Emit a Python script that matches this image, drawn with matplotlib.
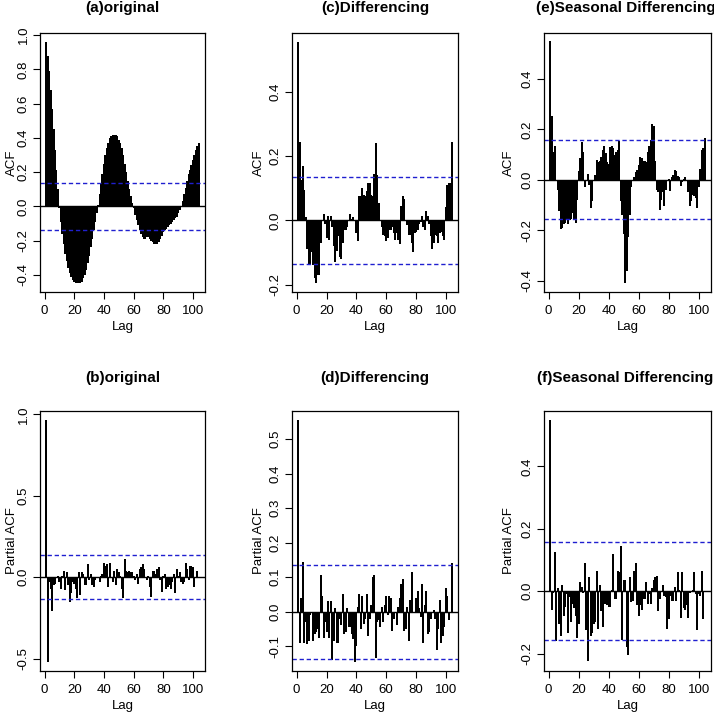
import matplotlib.pyplot as plt
import numpy as np

plt.rcParams['font.family'] = ['Liberation Sans', 'DejaVu Sans']

# --- correlogram values, lags 1..104 ---
lags = np.arange(1, 105)

acf_orig = [0.96, 0.88, 0.79, 0.68, 0.57, 0.45, 0.33, 0.21, 0.10, -0.01,
            -0.09, -0.16, -0.22, -0.28, -0.32, -0.36, -0.39, -0.41, -0.43, -0.44,
            -0.445, -0.45, -0.45, -0.45, -0.44, -0.42, -0.40, -0.37, -0.33, -0.29,
            -0.24, -0.19, -0.14, -0.09, -0.04, 0.01, 0.07, 0.13, 0.19, 0.25,
            0.30, 0.34, 0.37, 0.40, 0.41, 0.42, 0.42, 0.42, 0.41, 0.39,
            0.37, 0.34, 0.30, 0.25, 0.20, 0.15, 0.10, 0.06, 0.02, -0.01,
            -0.05, -0.08, -0.11, -0.14, -0.16, -0.18, -0.19, -0.19, -0.18, -0.18,
            -0.19, -0.20, -0.21, -0.22, -0.22, -0.22, -0.21, -0.19, -0.17, -0.15,
            -0.14, -0.13, -0.12, -0.11, -0.10, -0.09, -0.08, -0.07, -0.06, -0.04,
            -0.02, 0.00, 0.03, 0.07, 0.11, 0.15, 0.19, 0.21, 0.24, 0.27,
            0.30, 0.33, 0.35, 0.37]

pacf_orig = [0.965, -0.52, -0.03, -0.07, -0.21, -0.05, -0.04, 0.0, 0.01, -0.03,
             -0.07, 0.01, 0.04, -0.08, 0.03, -0.05, -0.15, -0.10, -0.03, -0.04,
             -0.07, -0.13, 0.03, -0.11, 0.03, 0.02, -0.05, -0.05, 0.08, -0.02,
             0.02, -0.05, -0.06, -0.02, 0.0, 0.0, -0.03, 0.01, 0.02, 0.09,
             0.07, 0.08, -0.06, 0.09, 0.0, -0.03, 0.04, -0.05, 0.05, 0.03,
             0.01, -0.07, -0.13, 0.11, 0.04, 0.03, 0.04, 0.03, 0.03, 0.01,
             -0.02, 0.02, -0.04, 0.05, 0.06, 0.08, 0.05, 0.0, -0.02, 0.01,
             -0.06, -0.12, 0.04, 0.04, 0.02, 0.05, 0.06, -0.02, -0.09, 0.01,
             0.02, -0.07, -0.06, -0.05, -0.07, -0.03, 0.02, -0.10, 0.05, 0.01,
             0.03, -0.03, -0.04, -0.03, 0.09, 0.05, -0.02, 0.07, 0.07, 0.06,
             -0.06, 0.0, 0.04, 0.0]

acf_diff = [0.555, 0.245, 0.125, 0.17, 0.095, 0.01, -0.09, -0.14, -0.14, -0.10,
            -0.14, -0.18, -0.195, -0.17, -0.17, -0.07, 0.0, 0.02, -0.01, -0.055,
            0.015, -0.06, 0.015, -0.02, -0.08, -0.13, -0.095, -0.05, -0.115, -0.12,
            -0.07, -0.03, -0.03, -0.02, 0.0, 0.02, 0.005, 0.01, 0.0, -0.04,
            -0.065, 0.075, 0.075, 0.10, 0.08, 0.075, 0.09, 0.115, 0.115, 0.08,
            0.075, 0.145, 0.24, 0.14, 0.055, 0.0, -0.02, -0.045, -0.05, -0.065,
            -0.055, -0.03, -0.03, -0.02, -0.04, -0.06, -0.04, -0.06, -0.075, 0.045,
            0.075, 0.065, 0.0, -0.015, -0.045, -0.045, -0.07, -0.10, -0.04, -0.035,
            -0.03, -0.01, -0.005, 0.015, -0.02, -0.03, 0.03, 0.015, -0.01, -0.05,
            -0.09, -0.07, -0.045, -0.05, -0.07, -0.04, -0.035, -0.05, -0.06, 0.04,
            0.11, 0.115, 0.115, 0.245]

pacf_diff = [0.555, -0.09, 0.04, 0.145, -0.09, -0.03, -0.095, -0.085, -0.01, -0.005,
             -0.085, -0.065, -0.06, -0.05, -0.075, 0.105, 0.045, -0.075, -0.03, -0.06,
             0.03, -0.075, 0.03, -0.14, -0.085, 0.01, -0.09, -0.09, -0.02, -0.04,
             0.05, -0.065, -0.06, 0.01, -0.045, -0.045, -0.065, -0.08, -0.145, -0.10,
             0.015, 0.05, -0.05, 0.045, -0.035, -0.02, 0.05, -0.07, -0.02, 0.02,
             0.10, 0.105, -0.135, -0.03, -0.025, -0.045, 0.015, -0.03, 0.02, 0.045,
             -0.01, 0.045, 0.04, -0.055, -0.02, 0.0, -0.04, 0.015, 0.04, 0.08,
             0.095, -0.055, -0.05, 0.015, -0.085, 0.035, 0.115, -0.005, 0.0, 0.04,
             0.06, 0.01, -0.015, 0.08, -0.09, 0.02, 0.06, -0.065, -0.06, -0.02,
             0.0, 0.005, -0.02, -0.11, -0.05, 0.035, -0.09, -0.07, -0.045, 0.07,
             0.045, -0.025, 0.0, 0.14]

acf_seas = [0.55, 0.255, 0.11, 0.135, 0.0, -0.04, -0.125, -0.195, -0.19, -0.175,
            -0.17, -0.155, -0.175, -0.16, -0.155, -0.13, -0.16, -0.17, -0.08, 0.035,
            0.085, 0.15, 0.11, -0.03, 0.0, 0.025, -0.02, -0.11, -0.085, 0.0,
            0.02, 0.08, 0.07, 0.075, 0.09, 0.12, 0.135, 0.105, 0.07, 0.065,
            0.13, 0.135, 0.125, 0.10, 0.11, 0.12, 0.155, -0.085, -0.14, -0.215,
            -0.41, -0.36, -0.225, -0.14, -0.03, -0.005, 0.01, 0.03, 0.04, 0.06,
            0.09, 0.085, 0.075, 0.075, 0.07, 0.11, 0.135, 0.16, 0.22, 0.215,
            0.075, -0.04, -0.05, -0.12, -0.08, -0.05, -0.105, -0.04, 0.0, 0.005,
            -0.045, 0.01, 0.02, 0.04, 0.035, 0.015, 0.01, -0.025, -0.01, 0.005,
            0.01, 0.0, -0.05, -0.105, -0.085, -0.06, -0.065, -0.07, -0.11, -0.03,
            0.045, 0.12, 0.125, 0.165]

pacf_seas = [0.55, -0.06, -0.005, 0.125, -0.16, 0.01, -0.105, -0.145, 0.02, -0.08,
             -0.05, -0.01, -0.135, -0.02, -0.10, -0.04, -0.055, -0.08, -0.15, -0.105,
             0.03, 0.015, -0.005, 0.09, -0.125, -0.225, 0.045, -0.145, -0.135, -0.105,
             -0.10, 0.065, -0.12, 0.02, -0.065, -0.115, -0.04, -0.04, -0.045, -0.05,
             -0.05, 0.005, 0.12, -0.025, -0.025, 0.065, 0.06, 0.145, -0.155, 0.035,
             0.035, -0.18, -0.205, 0.045, -0.035, -0.03, 0.065, 0.09, -0.045, -0.08,
             -0.045, -0.06, -0.025, -0.025, 0.03, -0.04, -0.01, -0.04, 0.01, 0.035,
             0.045, 0.05, -0.065, -0.025, 0.0, 0.02, -0.015, -0.02, -0.12, -0.09,
             -0.015, -0.03, -0.03, 0.015, -0.03, 0.06, 0.005, -0.085, 0.06, -0.055,
             -0.06, -0.045, -0.085, -0.005, 0.0, 0.005, 0.06, -0.01, -0.125, -0.01,
             -0.015, 0.065, -0.09, 0.0]

ci_full = 0.136   # 1.96/sqrt(n), n ~ 208
ci_seas = 0.157   # n ~ 156

W, H = 714, 713
fig = plt.figure(figsize=(W / 100, H / 100), dpi=100)


def panel(box, vals, title, ylabel, ylim, yticks, ci, title_gap, ylab_off, title_dx=0):
    x0, y0, x1, y1 = box  # pixel box (top-left origin)
    ax = fig.add_axes([x0 / W, (H - y1) / H, (x1 - x0) / W, (y1 - y0) / H])
    ax.vlines(lags, 0, vals, color='black', linewidth=1.1, antialiased=False)
    ax.axhline(0, color='black', linewidth=1.0)
    for c in (ci, -ci):
        ax.axhline(c, color='#1f1fd0', linewidth=1.0, linestyle=(0, (3.1, 2.0)))
    ax.set_xlim(-3.12, 108.12)
    ax.set_ylim(*ylim)
    ax.set_xticks([0, 20, 40, 60, 80, 100])
    ax.set_yticks(yticks)
    ax.set_yticklabels([f'{t:.1f}' for t in yticks], rotation=90, va='center')
    ax.tick_params(labelsize=9.5, length=5, width=0.8)
    ax.tick_params(axis='x', pad=4.5)
    ax.tick_params(axis='y', pad=2.5)
    for s in ax.spines.values():
        s.set_linewidth(0.9)
    ax.set_xlabel('Lag', fontsize=9.5, labelpad=2.5)
    ax.set_ylabel(ylabel, fontsize=9.5)
    ax.yaxis.set_label_coords(-ylab_off / (x1 - x0), 0.5)
    fig.text(((x0 + x1) / 2 + title_dx) / W, 1 - (y0 - title_gap) / H, title,
             ha='center', va='center', fontsize=11, fontweight='bold')
    return ax


panel((40, 33, 205, 292), acf_orig, '(a)original', 'ACF', (-0.50, 1.013),
      [-0.4, -0.2, 0.0, 0.2, 0.4, 0.6, 0.8, 1.0], ci_full, 25, 22)
panel((292, 33, 458, 292), acf_diff, '(c)Differencing', 'ACF', (-0.223, 0.583),
      [-0.2, 0.0, 0.2, 0.4], ci_full, 25, 27)
panel((544, 33, 711, 292), acf_seas, '(e)Seasonal Differencing', 'ACF', (-0.445, 0.583),
      [-0.4, -0.2, 0.0, 0.2, 0.4], ci_seas, 25, 29, -2)
panel((40, 411, 205, 671), pacf_orig, '(b)original', 'Partial ACF', (-0.576, 1.02),
      [-0.5, 0.0, 0.5, 1.0], ci_full, 33, 22)
panel((292, 411, 458, 671), pacf_diff, '(d)Differencing', 'Partial ACF', (-0.172, 0.582),
      [-0.1, 0.0, 0.1, 0.2, 0.3, 0.4, 0.5], ci_full, 33, 27)
panel((544, 411, 711, 671), pacf_seas, '(f)Seasonal Differencing', 'Partial ACF', (-0.256, 0.578),
      [-0.2, 0.0, 0.2, 0.4], ci_seas, 33, 29, -2)

fig.savefig('out.png', dpi=100)
